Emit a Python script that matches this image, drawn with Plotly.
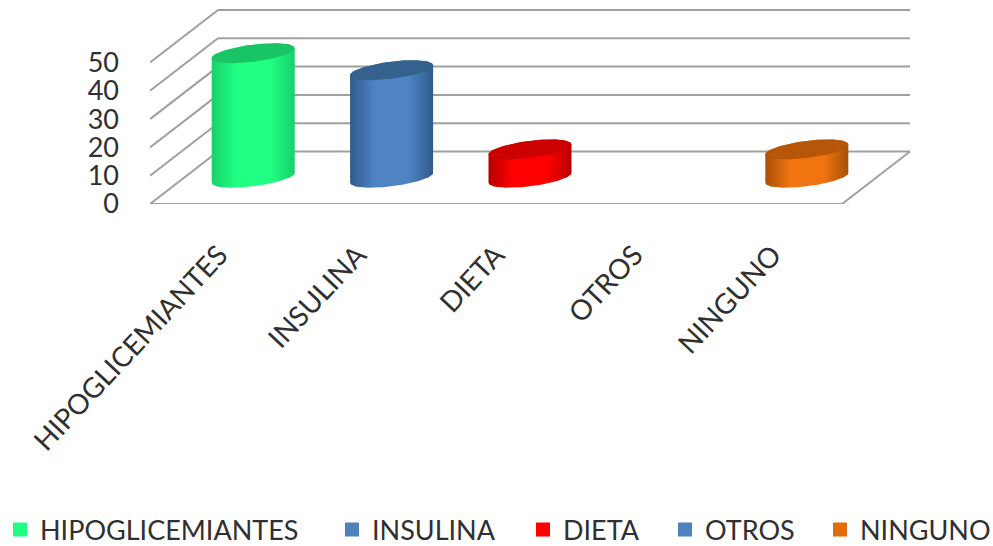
import numpy as np
import plotly.graph_objects as go

categories = ["HIPOGLICEMIANTES", "INSULINA", "DIETA", "OTROS", "NINGUNO"]
values = [44, 38, 10, 0, 10]
y_ticks = [0, 10, 20, 30, 40, 50]
legend_colors = ["#20FF82", "#4F81BD", "#FF0000", "#4F81BD", "#E36C0A"]
cap_colors = ["#18C464", "#35618F", "#CC0000", "#35618F", "#B55608"]
edge_colors = ["#18D06C", "#2F5A8C", "#B80000", "#2F5A8C", "#A85006"]
mid_colors = ["#20FF82", "#4F84C4", "#FF0000", "#4F84C4", "#F07510"]
legend_px = [0, 332, 523, 665, 820]

W, H = 993, 546
FRONT_LEFT, FRONT_BOTTOM = 150, 204
PX_PER_CAT, PX_PER_UNIT = 138.4, 2.83
DX, DY = 68 / PX_PER_CAT, 52.5 / PX_PER_UNIT
N = len(categories)
GRID = "#A0A0A0"
TEXT = "#303030"
FONT = "Lato, Carlito, Calibri, sans-serif"

fig = go.Figure()


def line(xs, ys):
    fig.add_trace(go.Scatter(x=xs, y=ys, mode="lines", line=dict(color=GRID, width=2),
                             showlegend=False, hoverinfo="skip"))


for t in y_ticks:
    line([DX, N + DX], [t + DY, t + DY])   # back wall
    line([0, DX], [t, t + DY])             # side wall
line([N, N + DX], [0, DY])                 # floor edge
line([0, N], [0, 0])                       # floor front

A, B, K = 41.5 / PX_PER_CAT, 8.6 / PX_PER_UNIT, 5.0 / PX_PER_UNIT
theta = np.linspace(0, 2 * np.pi, 121)


def ellipse(cx, cy, th):
    return cx + A * np.cos(th), cy + B * np.sin(th) + K * np.cos(th)


for i, (v, cap, edge, mid) in enumerate(zip(values, cap_colors, edge_colors, mid_colors)):
    if v <= 0:
        continue
    cx = i + 0.5 + DX / 2
    cy = DY / 2
    lower = np.linspace(np.pi, 2 * np.pi, 61)
    bx, by = ellipse(cx, cy, lower)
    tx, ty = ellipse(cx, cy + v, lower - np.pi)
    fig.add_trace(go.Scatter(
        x=np.concatenate([bx, tx]), y=np.concatenate([by, ty]), mode="lines",
        line=dict(width=0), fill="toself",
        fillgradient=dict(type="horizontal",
                          colorscale=[[0, edge], [0.3, mid], [0.7, mid], [1, edge]]),
        showlegend=False, hoverinfo="skip"))
    ex, ey = ellipse(cx, cy + v, theta)
    fig.add_trace(go.Scatter(x=ex, y=ey, mode="lines", line=dict(width=0), fill="toself",
                             fillcolor=cap, showlegend=False, hoverinfo="skip"))

layout_legends = {}
for i, (name, color, px) in enumerate(zip(categories, legend_colors, legend_px)):
    key = "legend" if i == 0 else f"legend{i + 1}"
    fig.add_trace(go.Scatter(x=[None], y=[None], mode="markers", name=name, legend=key,
                             marker=dict(symbol="square", size=16, color=color,
                                         line=dict(color=color, width=3))))
    layout_legends[key] = dict(
        x=px / W, xanchor="left",
        y=-(530 - FRONT_BOTTOM) / FRONT_BOTTOM, yanchor="middle",
        orientation="h", bgcolor="rgba(0,0,0,0)", itemsizing="constant",
        font=dict(family=FONT, size=27, color=TEXT),
    )

fig.update_layout(
    width=W, height=H, autosize=False,
    margin=dict(l=0, r=0, t=0, b=H - FRONT_BOTTOM, pad=0, autoexpand=False),
    paper_bgcolor="white", plot_bgcolor="white",
    xaxis=dict(domain=[FRONT_LEFT / W, 1], range=[0, (W - FRONT_LEFT) / PX_PER_CAT],
               tickvals=[i + 0.5 for i in range(N)], ticktext=categories, tickangle=-47,
               showgrid=False, zeroline=False, showline=False, ticks="", ticklabelstandoff=28,
               tickfont=dict(family=FONT, size=28, color=TEXT)),
    yaxis=dict(range=[0, FRONT_BOTTOM / PX_PER_UNIT], tickvals=y_ticks, showgrid=False,
               zeroline=False, showline=False, ticks="", ticklabelstandoff=30,
               tickfont=dict(family=FONT, size=27, color=TEXT)),
    **layout_legends,
)
fig.write_html("out.html", config={"displayModeBar": False},
               post_script="document.body.style.margin='0';document.body.style.overflow='hidden';")
